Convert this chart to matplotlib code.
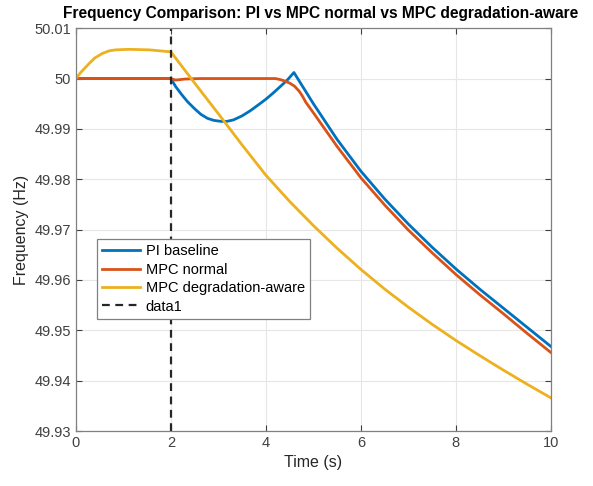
import numpy as np
import matplotlib.pyplot as plt

plt.rcParams['font.family'] = ['Liberation Sans', 'DejaVu Sans']

# PI baseline
t_pi = [0, 2, 2.1, 2.22, 2.35, 2.5, 2.63, 2.77, 2.9, 3.05, 3.18, 3.32, 3.5, 3.67, 3.83,
        4.0, 4.15, 4.29, 4.45, 4.59,
        5.0, 5.5, 6.0, 6.5, 7.0, 7.5, 8.0, 8.5, 9.0, 9.5, 10]
f_pi = [50, 50, 49.9984, 49.9969, 49.9954, 49.9940, 49.9929, 49.9921, 49.9917, 49.9915, 49.9915,
        49.9918, 49.9926, 49.9936, 49.9947,
        49.9959, 49.9971, 49.9983, 49.9997, 50.0012,
        49.9950, 49.9879, 49.9816, 49.9761, 49.9711, 49.9665, 49.9622, 49.9582, 49.9544, 49.9506, 49.9468]

# MPC normal
t_mpc = [0, 2.0, 2.1, 2.3, 2.6, 4.2, 4.3, 4.4, 4.5, 4.6, 4.7, 4.77, 4.84,
         5.0, 5.5, 6.0, 6.5, 7.0, 7.5, 8.0, 8.5, 9.0, 9.5, 10]
f_mpc = [50, 50, 49.9997, 49.9999, 50, 50, 49.9998, 49.9995, 49.9991, 49.9985, 49.9975, 49.9965, 49.9953,
         49.9932, 49.9865, 49.9803, 49.9749, 49.9699, 49.9654, 49.9611, 49.9571, 49.9533, 49.9494, 49.9456]

# MPC degradation-aware
t_deg = [0, 0.1, 0.2, 0.28, 0.4, 0.56, 0.7, 0.84, 1.12, 1.54, 2.0, 2.5, 3.0, 3.5, 4.0,
         4.5, 5.0, 5.5, 6.0, 6.5, 7.0, 7.5, 8.0, 8.5, 9.0, 9.5, 10]
f_deg = [50, 50.0012, 50.0022, 50.0030, 50.0041, 50.0050, 50.0055, 50.0057, 50.0058, 50.0057,
         50.0053, 49.9991, 49.9930, 49.9868, 49.9808,
         49.9756, 49.9708, 49.9663, 49.9621, 49.9582, 49.9546, 49.9512, 49.9480, 49.9450, 49.9421, 49.9393, 49.9366]

t_event = [2, 2]
f_event = [49.93, 50.01]

yticks = [49.93, 49.94, 49.95, 49.96, 49.97, 49.98, 49.99, 50.0, 50.01]
ylabels = ['49.93', '49.94', '49.95', '49.96', '49.97', '49.98', '49.99', '50', '50.01']
xticks = [0, 2, 4, 6, 8, 10]

fig = plt.figure(figsize=(5.93, 4.86), dpi=100)
ax = fig.add_axes([0.128, 0.113, 0.801, 0.829])

ax.plot(t_pi, f_pi, color='#0072BD', lw=2, label='PI baseline')
ax.plot(t_mpc, f_mpc, color='#D95319', lw=2, label='MPC normal')
ax.plot(t_deg, f_deg, color='#EDB120', lw=2, label='MPC degradation-aware')
ax.plot(t_event, f_event, color='#262626', ls='--', lw=1.6, dashes=(3.5, 2.5), label='data1')

ax.set_xlim(0, 10)
ax.set_ylim(49.93, 50.01)
ax.set_xticks(xticks)
ax.set_xticklabels([str(x) for x in xticks])
ax.set_yticks(yticks)
ax.set_yticklabels(ylabels)
ax.grid(True, color='#e6e6e6', lw=0.8)
ax.set_axisbelow(True)
ax.tick_params(direction='in', top=True, right=True, labelsize=10.5, colors='#404040',
               length=4, width=0.8)
for s in ax.spines.values():
    s.set_color('#808080')
    s.set_linewidth(0.9)

ax.set_xlabel('Time (s)', fontsize=11.5, color='#262626')
ax.set_ylabel('Frequency (Hz)', fontsize=11.5, color='#262626')
ax.set_title('Frequency Comparison: PI vs MPC normal vs MPC degradation-aware',
             fontsize=11.2, fontweight='bold', pad=7, x=0.515)

leg = ax.legend(loc='upper left', bbox_to_anchor=(0.044, 0.476), fontsize=10.5,
                fancybox=False, framealpha=1, edgecolor='#808080', borderpad=0.35,
                labelspacing=0.3, handlelength=2.6, handletextpad=0.4, borderaxespad=0)
leg.get_frame().set_linewidth(0.9)

fig.savefig('out.png', dpi=100)
